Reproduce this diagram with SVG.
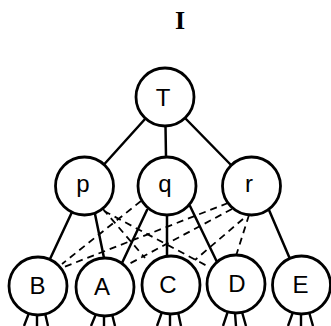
<svg xmlns="http://www.w3.org/2000/svg" width="331" height="326" viewBox="0 0 331 326">
<style>
.node circle{fill:#fff;stroke:#000;stroke-width:2.8}
.node text{font-family:"Liberation Sans",Arial,sans-serif;font-size:24px;fill:#000;text-anchor:middle}
.solid{stroke:#000;stroke-width:2.5;fill:none;stroke-linecap:round}
.dash{stroke:#000;stroke-width:1.8;fill:none;stroke-dasharray:7 5}
.leg{stroke:#000;stroke-width:2.4;fill:none}
.title{font-family:"Liberation Serif","Times New Roman",serif;font-size:26px;font-weight:bold;text-anchor:middle;fill:#000}
</style>
<rect width="331" height="326" fill="#fff"/>
<text class="title" x="180" y="29">I</text>
<g id="connectors">
<line class="solid" x1="145.5" y1="118.5" x2="104" y2="164.5"/>
<line class="solid" x1="165.5" y1="126" x2="166" y2="157"/>
<line class="solid" x1="185" y1="118" x2="231" y2="165"/>
<line class="solid" x1="72" y1="212" x2="50" y2="259"/>
<line class="solid" x1="95" y1="214" x2="104" y2="258"/>
<line class="solid" x1="147" y1="210" x2="122" y2="263"/>
<line class="solid" x1="167" y1="215" x2="167" y2="256"/>
<line class="solid" x1="190" y1="206" x2="217" y2="262"/>
<line class="solid" x1="269" y1="210" x2="290" y2="259"/>
<line class="dash" x1="103" y1="209" x2="145" y2="258"/>
<line class="dash" x1="104" y1="211" x2="209" y2="267"/>
<line class="dash" x1="141" y1="201" x2="62" y2="264"/>
<line class="dash" x1="228" y1="203" x2="64" y2="267"/>
<line class="dash" x1="232" y1="209" x2="129" y2="264"/>
<line class="dash" x1="243" y1="219" x2="195" y2="260"/>
<line class="dash" x1="249" y1="215" x2="236" y2="256"/>
</g>
<g id="legs">
<path class="leg" d="M29 313 L24 326 M37 315 L37 326 M45 313 L48 326"/>
<path class="leg" d="M96 314 L91 326 M104 316 L104 326 M112 314 L115 326"/>
<path class="leg" d="M162 312 L157 326 M170 314 L170 326 M178 312 L181 326"/>
<path class="leg" d="M228 311 L223 326 M235 313 L236 326 M242 312 L246 326"/>
<path class="leg" d="M293 312 L288 326 M301 314 L301 326 M309 312 L313 326"/>
</g>
<g id="node-T" class="node"><circle cx="165" cy="97" r="29"/><text x="163" y="106">T</text></g>
<g id="node-p" class="node"><circle cx="84.5" cy="186" r="29"/><text x="83" y="192">p</text></g>
<g id="node-q" class="node"><circle cx="167" cy="186" r="29"/><text x="165" y="192">q</text></g>
<g id="node-r" class="node"><circle cx="251.5" cy="186" r="29"/><text x="249" y="192">r</text></g>
<g id="node-B" class="node"><circle cx="38" cy="286" r="29"/><text x="37.5" y="294">B</text></g>
<g id="node-A" class="node"><circle cx="105" cy="287" r="29"/><text x="102" y="295">A</text></g>
<g id="node-C" class="node"><circle cx="171" cy="285" r="29"/><text x="168" y="293">C</text></g>
<g id="node-D" class="node"><circle cx="236" cy="284" r="29"/><text x="237" y="292">D</text></g>
<g id="node-E" class="node"><circle cx="301.5" cy="285" r="29"/><text x="300.5" y="293">E</text></g>
</svg>
